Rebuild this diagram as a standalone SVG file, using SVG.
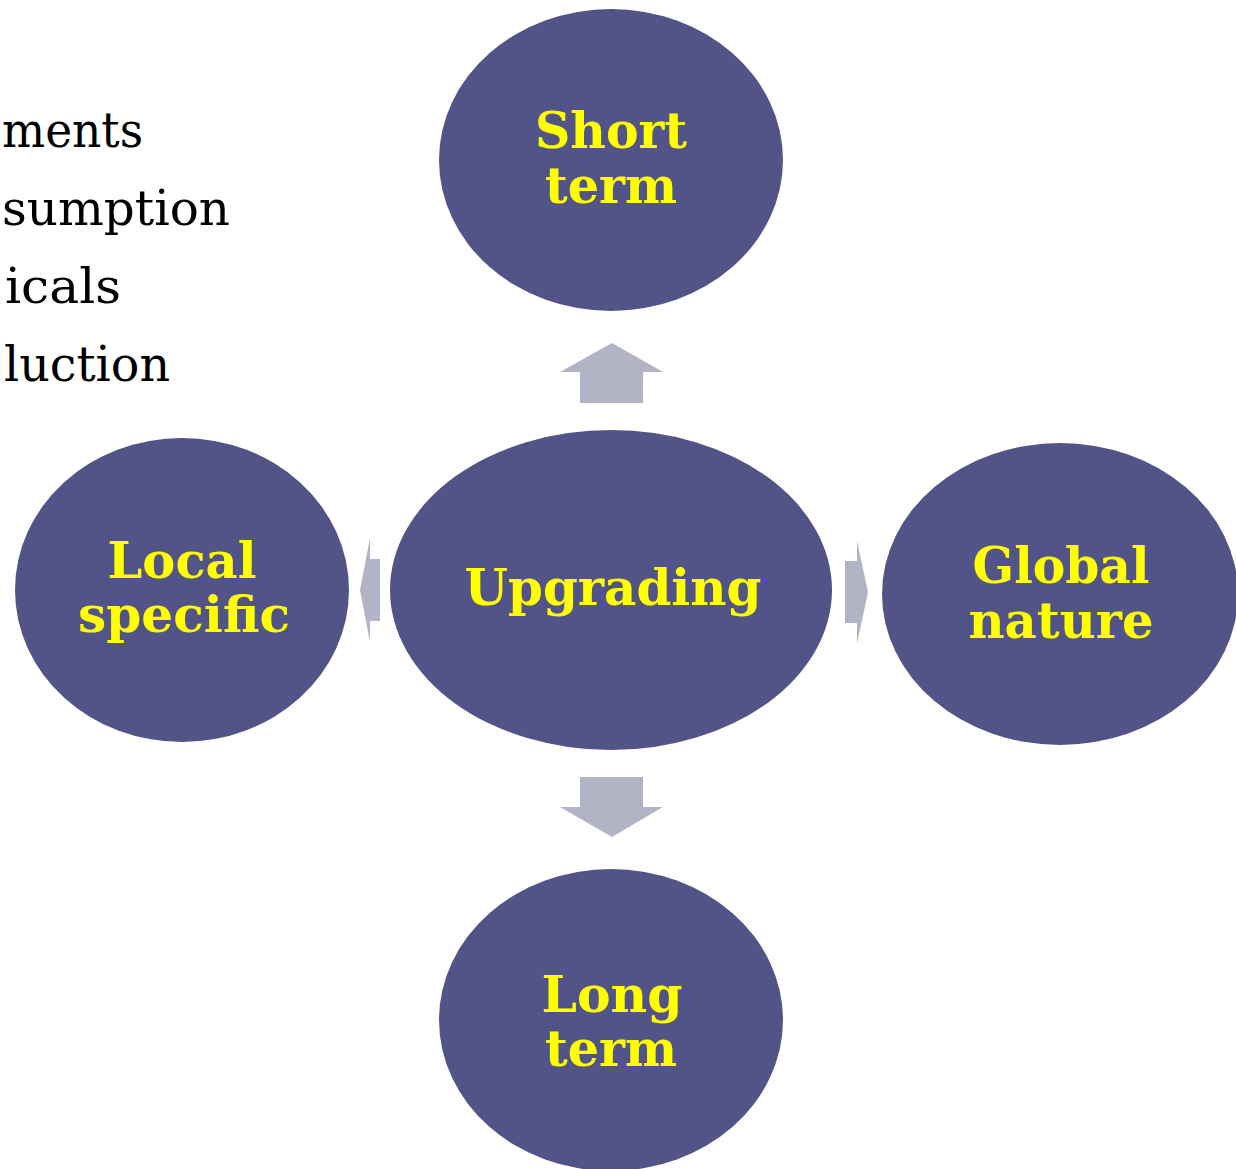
<svg xmlns="http://www.w3.org/2000/svg" width="1236" height="1169" viewBox="0 0 1236 1169">
<style>
.node{fill:#525488;}
.lbl{font-family:"DejaVu Serif","Liberation Serif",serif;font-weight:bold;font-size:50px;fill:#ffff00;text-anchor:middle;}
.arr{fill:#b3b3c6;}
.bg{font-family:"DejaVu Serif","Liberation Serif",serif;font-size:48px;fill:#000000;text-anchor:end;}
</style>
<rect width="1236" height="1169" fill="#ffffff"/>
<g id="bullets">
<text class="bg" x="143" y="147" textLength="141" lengthAdjust="spacingAndGlyphs">ments</text>
<text class="bg" x="230" y="225" textLength="228" lengthAdjust="spacingAndGlyphs">sumption</text>
<text class="bg" x="121" y="303" textLength="116" lengthAdjust="spacingAndGlyphs">icals</text>
<text class="bg" x="170" y="381" textLength="166" lengthAdjust="spacingAndGlyphs">luction</text>
</g>
<g id="connectors">
<polygon class="arr" points="612,343 663,372 643,372 643,403 580,403 580,372 560,372"/>
<polygon class="arr" points="580,777 643,777 643,807 663,807 612,837 560,807 580,807"/>
<polygon class="arr" points="360,590 370,538 370,559 380,559 380,621 370,621 370,642"/>
<polygon class="arr" points="868,592 857,541 857,561 845,561 845,623 857,623 857,644"/>
</g>
<g id="node-center">
<ellipse class="node" cx="611" cy="590" rx="221" ry="160"/>
<text class="lbl" x="613" y="605" textLength="297" lengthAdjust="spacingAndGlyphs">Upgrading</text>
</g>
<g id="node-short">
<ellipse class="node" cx="611" cy="160" rx="172" ry="151"/>
<text class="lbl" x="611" y="148" textLength="152" lengthAdjust="spacingAndGlyphs">Short</text>
<text class="lbl" x="611" y="203" textLength="132" lengthAdjust="spacingAndGlyphs">term</text>
</g>
<g id="node-local">
<ellipse class="node" cx="182" cy="590" rx="167" ry="152"/>
<text class="lbl" x="182" y="578" textLength="149" lengthAdjust="spacingAndGlyphs">Local</text>
<text class="lbl" x="184" y="632" textLength="212" lengthAdjust="spacingAndGlyphs">specific</text>
</g>
<g id="node-global">
<ellipse class="node" cx="1060" cy="594" rx="178" ry="151"/>
<text class="lbl" x="1061" y="583" textLength="177" lengthAdjust="spacingAndGlyphs">Global</text>
<text class="lbl" x="1061" y="638" textLength="185" lengthAdjust="spacingAndGlyphs">nature</text>
</g>
<g id="node-long">
<ellipse class="node" cx="611" cy="1020" rx="172" ry="151"/>
<text class="lbl" x="612" y="1012" textLength="141" lengthAdjust="spacingAndGlyphs">Long</text>
<text class="lbl" x="611" y="1066" textLength="132" lengthAdjust="spacingAndGlyphs">term</text>
</g>
</svg>
